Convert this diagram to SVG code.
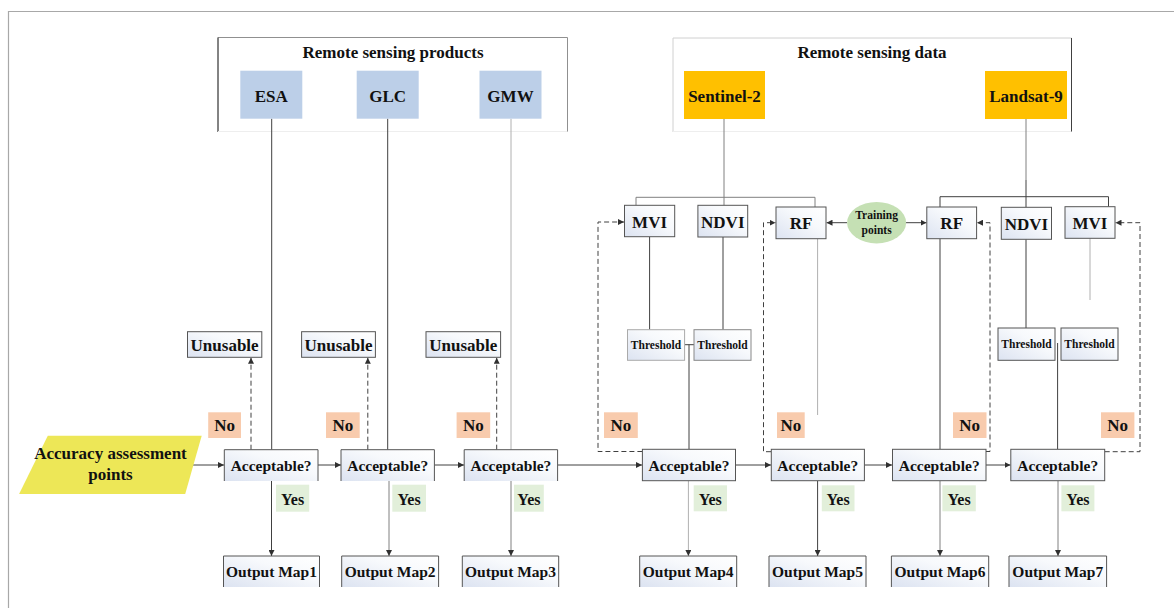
<svg xmlns="http://www.w3.org/2000/svg" width="1174" height="608" viewBox="0 0 1174 608">
<defs>
<linearGradient id="gb" x1="0" y1="1" x2="1" y2="0">
<stop offset="0" stop-color="#dce3f1"/>
<stop offset="0.6" stop-color="#f7f9fc"/>
<stop offset="1" stop-color="#ffffff"/>
</linearGradient>
<marker id="ah" viewBox="0 0 6 6" refX="6" refY="3" markerWidth="6" markerHeight="6" markerUnits="userSpaceOnUse" orient="auto">
<path d="M0,0 L6,3 L0,6 z" fill="#303030"/>
</marker>
<style>
text{font-family:"Liberation Serif","Times New Roman",serif;font-weight:bold;fill:#111;text-anchor:middle}
.t17{font-size:17px}
.t16{font-size:16px}
.t15{font-size:15.5px}
.t11{font-size:11.5px}
.box{fill:url(#gb);stroke:#555;stroke-width:1}
.open{fill:none;stroke:#555;stroke-width:1}
.ln{fill:none;stroke:#404040;stroke-width:1}
.lt{fill:none;stroke:#b0b0b0;stroke-width:1}
.md{fill:none;stroke:#808080;stroke-width:1}
.ds{fill:none;stroke:#404040;stroke-width:1;stroke-dasharray:5,3}
.arr{marker-end:url(#ah)}
.no{fill:#f8cbad}
.yes{fill:#e2efda}
.blue{fill:#bccfe8}
.gold{fill:#ffc000}
</style>
</defs>
<rect x="0" y="0" width="1174" height="608" fill="#ffffff"/>
<!-- frame -->
<path d="M8.5,608 V11.5 H1174" fill="none" stroke="#a8a8a8" stroke-width="1.2"/>

<!-- group containers -->
<g id="products">
<rect x="218" y="37.5" width="350" height="94" fill="#fff"/>
<path d="M218,132 V37.5 H567.5 V132" fill="none" stroke="#909090"/>
<path d="M218,37.5 V132" fill="none" stroke="#404040"/>
<path d="M218,131.5 H567.5" fill="none" stroke="#eeeeee"/>
<text class="t17" x="393" y="58">Remote sensing products</text>
</g>
<g id="data">
<rect x="673" y="38" width="399" height="94" fill="#fff"/>
<path d="M673,132 V38 H1071.5" fill="none" stroke="#d0d0d0"/>
<path d="M1071.5,38 V132" fill="none" stroke="#404040"/>
<path d="M673,131.5 H1071.5" fill="none" stroke="#eeeeee"/>
<text class="t17" x="872" y="58">Remote sensing data</text>
</g>

<!-- connectors -->
<g id="connectors">
<path class="ln" d="M271.7,118.7 V449.7"/>
<path class="ln" d="M387.7,118.7 V449.7"/>
<path class="lt" d="M511,118.7 V449.7"/>
<path class="md" d="M724,119 V205.5"/>
<path class="md" d="M1026,119 V180"/>
<path class="ln" d="M1026,180 V207.3"/>
<path class="md" d="M636,205.3 V197.3 H815 V207"/>
<path class="ln" d="M940,207 V196.7 H1108.5 V206.7"/>
<path class="ln" d="M649.6,236.7 V329.7"/>
<path class="ln" d="M723,237 V329.7"/>
<path class="ln" d="M684.6,344.7 H694"/>
<path class="ln" d="M689,344.7 V449"/>
<path class="ln" d="M1026,239.3 V328"/>
<path class="lt" d="M1090,238.3 V300"/>
<path class="ln" d="M1057.6,343 V449"/>
<path class="lt" d="M817.6,238.7 V415"/>
<path class="ln" d="M940,238.7 V449"/>
<path class="ln arr" d="M847,222.7 H826.5"/>
<path class="ln arr" d="M906,222.7 H926.5"/>
<path class="ds arr" d="M642.4,451.5 H598 V222 H624"/>
<path class="ds arr" d="M771,451.7 H763.5 V222.7 H775.5"/>
<path class="ds arr" d="M986,451.5 H990 V222.7 H977"/>
<path class="ds arr" d="M1104.7,451.7 H1140 V222.7 H1115.5"/>
<path class="ds arr" d="M251,449.7 V357.8"/>
<path class="ds arr" d="M367.8,449.7 V357.8"/>
<path class="ds arr" d="M496.7,449.7 V357.8"/>
<path class="ln arr" d="M191.4,465 H224"/>
<path class="ln arr" d="M318,465 H341"/>
<path class="ln arr" d="M434.4,465 H464"/>
<path class="ln arr" d="M557.6,465 H642"/>
<path class="ln arr" d="M735.5,465 H771"/>
<path class="ln arr" d="M864.4,465 H892"/>
<path class="ln arr" d="M986,465 H1010.5"/>
<path class="ln arr" d="M271.5,481 V556"/>
<path class="md arr" d="M389,481 V556"/>
<path class="md arr" d="M511,481 V556"/>
<path class="lt arr" d="M688.4,481 V556"/>
<path class="ln arr" d="M817.6,481 V556"/>
<path class="md arr" d="M940,481 V556"/>
<path class="md arr" d="M1058,481 V556"/>
</g>

<!-- product boxes -->
<g id="esa"><rect class="blue" x="240.3" y="70.7" width="62" height="48"/><text class="t17" x="271.3" y="101.5">ESA</text></g>
<g id="glc"><rect class="blue" x="356.7" y="70.7" width="62" height="48"/><text class="t17" x="387.7" y="101.5">GLC</text></g>
<g id="gmw"><rect class="blue" x="479.5" y="70.7" width="62" height="48"/><text class="t17" x="510.5" y="101.5">GMW</text></g>
<g id="sentinel2"><rect class="gold" x="684" y="71" width="81" height="48"/><text class="t17" x="724.5" y="101.5">Sentinel-2</text></g>
<g id="landsat9"><rect class="gold" x="985" y="71" width="82" height="48"/><text class="t17" x="1026" y="101.5">Landsat-9</text></g>

<!-- index / classifier boxes -->
<g id="mvi-left"><rect class="box" x="624.5" y="205.3" width="50.2" height="31.4"/><text class="t17" x="649.6" y="227.5">MVI</text></g>
<g id="ndvi-left"><rect class="box" x="697.9" y="205.3" width="49.8" height="31.7"/><text class="t17" x="722.8" y="227.5">NDVI</text></g>
<g id="rf-left"><rect class="box" x="776" y="207" width="50" height="31.7"/><text class="t17" x="801" y="229">RF</text></g>
<g id="training"><ellipse cx="876.6" cy="222.7" rx="29.5" ry="20.7" fill="#c5e0b4"/><text class="t11" x="876.6" y="219">Training</text><text class="t11" x="876.6" y="233.5">points</text></g>
<g id="rf-right"><rect class="box" x="926.8" y="207" width="49.8" height="31.7"/><text class="t17" x="951.7" y="229">RF</text></g>
<g id="ndvi-right"><rect class="box" x="1001.3" y="207.3" width="50.2" height="32"/><text class="t17" x="1026.4" y="229.5">NDVI</text></g>
<g id="mvi-right"><rect class="box" x="1065" y="206.7" width="50" height="31.6"/><text class="t17" x="1090" y="229">MVI</text></g>

<!-- thresholds -->
<g id="thr1"><rect class="box" x="627.5" y="329.7" width="57.1" height="30.6" style="stroke:#aaa"/><text class="t11" x="656" y="348.5">Threshold</text></g>
<g id="thr2"><rect class="box" x="694" y="329.7" width="57" height="30.6" style="stroke:#888"/><text class="t11" x="722.5" y="348.5">Threshold</text></g>
<g id="thr3"><rect class="box" x="998" y="328" width="57" height="32.3"/><text class="t11" x="1026.5" y="348">Threshold</text></g>
<g id="thr4"><rect class="box" x="1061" y="328" width="57" height="32.3"/><text class="t11" x="1089.5" y="348">Threshold</text></g>

<!-- unusable -->
<g id="unusable1"><rect class="box" x="187.5" y="331.7" width="74.3" height="25.6"/><text class="t17" x="224.6" y="350.5">Unusable</text></g>
<g id="unusable2"><rect class="box" x="301.6" y="331.7" width="73.8" height="25.6"/><text class="t17" x="338.5" y="350.5">Unusable</text></g>
<g id="unusable3"><rect class="box" x="426" y="331.7" width="74.6" height="25.6"/><text class="t17" x="463.3" y="350.5">Unusable</text></g>

<!-- No labels -->
<g id="no1"><rect class="no" x="208.2" y="412.3" width="32.8" height="25.7"/><text class="t17" x="224.6" y="431">No</text></g>
<g id="no2"><rect class="no" x="326" y="412.3" width="33.7" height="25.7"/><text class="t17" x="342.8" y="431">No</text></g>
<g id="no3"><rect class="no" x="456.6" y="412.3" width="33.6" height="25.7"/><text class="t17" x="473.4" y="431">No</text></g>
<g id="no4"><rect class="no" x="604" y="412.3" width="33.8" height="25.7"/><text class="t17" x="620.9" y="431">No</text></g>
<g id="no5"><rect class="no" x="777" y="412.3" width="27.7" height="25.7"/><text class="t17" x="790.8" y="431">No</text></g>
<g id="no6"><rect class="no" x="953" y="412.3" width="33.5" height="25.7"/><text class="t17" x="969.7" y="431">No</text></g>
<g id="no7"><rect class="no" x="1101" y="412.3" width="33.4" height="25.7"/><text class="t17" x="1117.7" y="431">No</text></g>

<!-- input -->
<g id="accuracy-points"><polygon points="47.8,435.7 201.7,435.7 185.2,494 19.1,494" fill="#ede757"/><text class="t17" x="110.5" y="459">Accuracy assessment</text><text class="t17" x="110.5" y="480">points</text></g>

<!-- decisions -->
<g id="acc1"><rect x="224.3" y="449.7" width="93.7" height="31.3" fill="url(#gb)"/><path class="open" d="M224.3,481 V449.7 H318 V481"/><text class="t15" x="271.1" y="470.5">Acceptable?</text></g>
<g id="acc2"><rect x="341" y="449.7" width="93.4" height="31.3" fill="url(#gb)"/><path class="open" d="M341,481 V449.7 H434.4 V481"/><text class="t15" x="387.7" y="470.5">Acceptable?</text></g>
<g id="acc3"><rect x="464.2" y="449.7" width="93.4" height="31.3" fill="url(#gb)"/><path class="open" d="M464.2,481 V449.7 H557.6 V481"/><text class="t15" x="510.9" y="470.5">Acceptable?</text></g>
<g id="acc4"><rect class="box" x="642.4" y="449.3" width="93.1" height="31.4"/><text class="t15" x="689" y="470.5">Acceptable?</text></g>
<g id="acc5"><rect class="box" x="771.3" y="449.3" width="93.1" height="31.4"/><text class="t15" x="817.8" y="470.5">Acceptable?</text></g>
<g id="acc6"><rect class="box" x="892.5" y="449.3" width="93.5" height="31.4"/><text class="t15" x="939.2" y="470.5">Acceptable?</text></g>
<g id="acc7"><rect class="box" x="1010.8" y="449.3" width="93.9" height="31.4"/><text class="t15" x="1057.7" y="470.5">Acceptable?</text></g>

<!-- Yes labels -->
<g id="yes1"><rect class="yes" x="276" y="484.7" width="33.2" height="27"/><text class="t16" x="292.6" y="504.5">Yes</text></g>
<g id="yes2"><rect class="yes" x="392.3" y="484.7" width="33.7" height="27"/><text class="t16" x="409.1" y="504.5">Yes</text></g>
<g id="yes3"><rect class="yes" x="514" y="484.7" width="29.8" height="27"/><text class="t16" x="528.9" y="504.5">Yes</text></g>
<g id="yes4"><rect class="yes" x="693.7" y="485.3" width="33.3" height="26"/><text class="t16" x="710.3" y="504.5">Yes</text></g>
<g id="yes5"><rect class="yes" x="821.8" y="485.3" width="32.7" height="26"/><text class="t16" x="838.1" y="504.5">Yes</text></g>
<g id="yes6"><rect class="yes" x="942.4" y="485.3" width="33.4" height="26"/><text class="t16" x="959.1" y="504.5">Yes</text></g>
<g id="yes7"><rect class="yes" x="1061.4" y="485.3" width="33" height="26"/><text class="t16" x="1077.9" y="504.5">Yes</text></g>

<!-- outputs -->
<g id="out1"><rect x="223.5" y="556" width="96" height="31" fill="url(#gb)"/><path class="open" d="M223.5,587 V556 H319.5 V587"/><text class="t15" x="271.5" y="577">Output Map1</text></g>
<g id="out2"><rect x="341.7" y="556" width="97" height="31" fill="url(#gb)"/><path class="open" d="M341.7,587 V556 H438.6 V587"/><text class="t15" x="390.1" y="577">Output Map2</text></g>
<g id="out3"><rect x="462.3" y="556" width="96.4" height="31" fill="url(#gb)"/><path class="open" d="M462.3,587 V556 H558.7 V587"/><text class="t15" x="510.5" y="577">Output Map3</text></g>
<g id="out4"><rect x="639.7" y="556" width="97" height="31" fill="url(#gb)"/><path class="open" d="M639.7,587 V556 H736.7 V587"/><text class="t15" x="688.2" y="577">Output Map4</text></g>
<g id="out5"><rect x="769" y="556" width="97" height="31" fill="url(#gb)"/><path class="open" d="M769,587 V556 H866 V587"/><text class="t15" x="817.5" y="577">Output Map5</text></g>
<g id="out6"><rect x="891.4" y="556" width="97.3" height="31" fill="url(#gb)"/><path class="open" d="M891.4,587 V556 H988.7 V587"/><text class="t15" x="940" y="577">Output Map6</text></g>
<g id="out7"><rect x="1009" y="556" width="97.6" height="31" fill="url(#gb)"/><path class="open" d="M1009,587 V556 H1106.6 V587"/><text class="t15" x="1057.8" y="577">Output Map7</text></g>
</svg>
